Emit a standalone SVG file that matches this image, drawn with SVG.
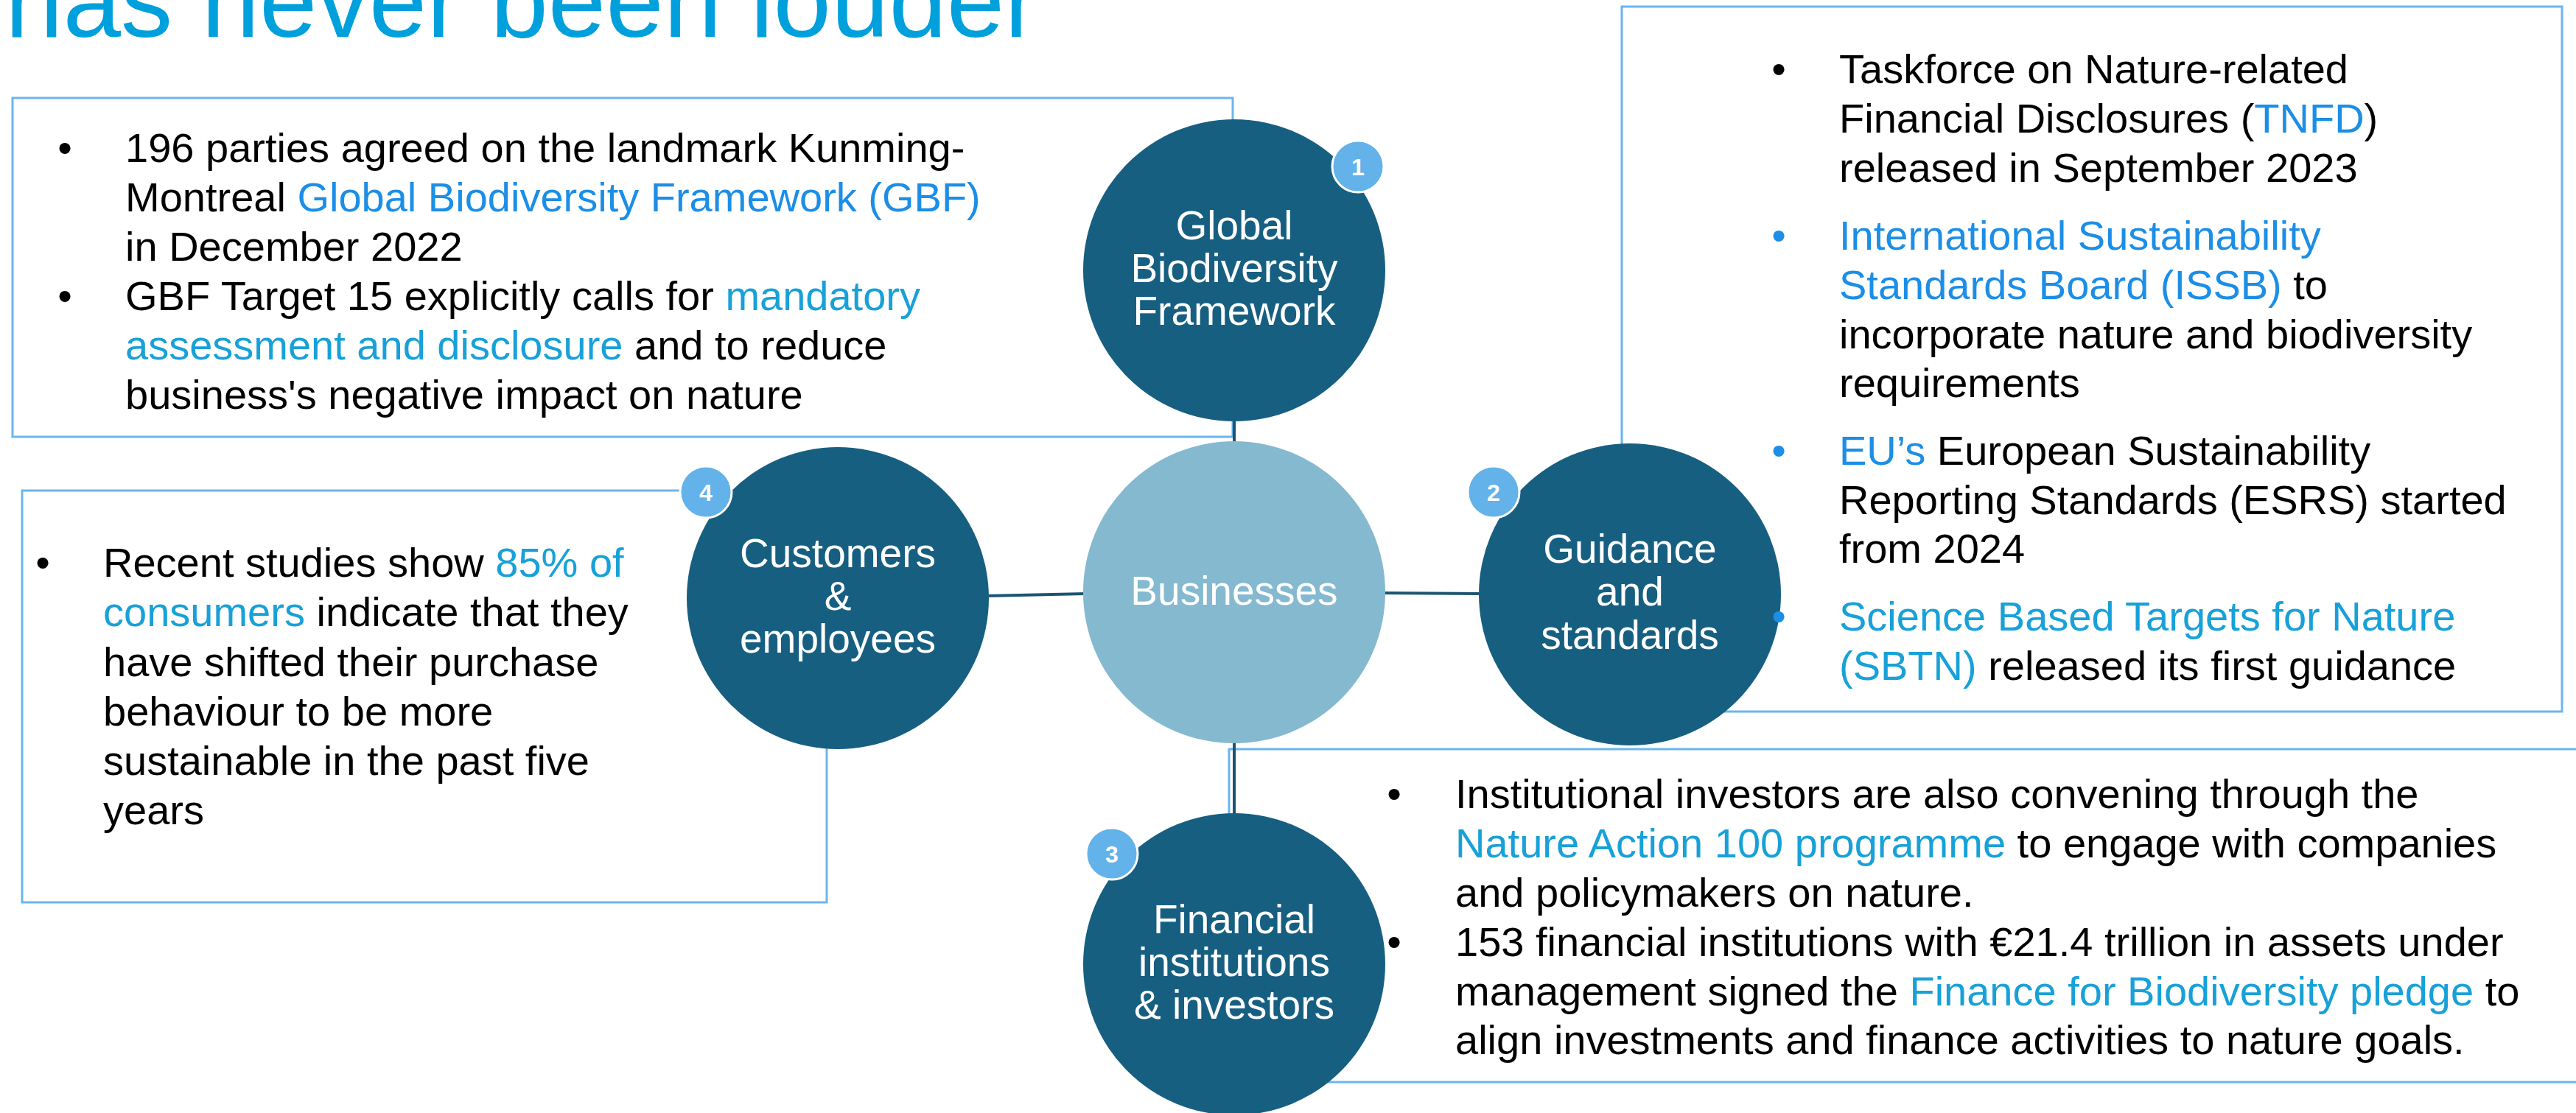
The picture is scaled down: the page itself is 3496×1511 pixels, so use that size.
<svg xmlns="http://www.w3.org/2000/svg" width="3496" height="1511" viewBox="0 0 3496 1511">
<style>
text{font-family:"Liberation Sans",Arial,sans-serif}
.box{fill:none;stroke:#6BB5EE;stroke-width:3}
.con{stroke:#1B5472;stroke-width:4;fill:none}
.dark{fill:#175F81}
.light{fill:#85B9CF}
.badge{fill:#63B2E9;stroke:#fff;stroke-width:3}
.bn{font-size:32px;font-weight:bold;fill:#fff;text-anchor:middle}
.ct{font-size:55px;fill:#fff;text-anchor:middle}
.bt{font-size:56px;fill:#000}
.bu{font-size:56px;fill:#000;text-anchor:middle}
.b1{fill:#1C8EE6}
.b2{fill:#18A1D8}
</style>
<rect width="3496" height="1511" fill="#fff"/>
<text x="7" y="50" font-size="141" fill="#00A0DC">has never been louder</text>
<g id="boxes">
<rect class="box" x="17" y="133" width="1656" height="460"/>
<rect class="box" x="2201" y="9" width="1276" height="957"/>
<rect class="box" x="30" y="666" width="1092" height="559"/>
<rect class="box" x="1668" y="1017" width="1850" height="452"/>
</g>
<g id="connectors">
<line class="con" x1="1675" y1="568" x2="1675" y2="602"/>
<line class="con" x1="1876" y1="805" x2="2011" y2="806"/>
<line class="con" x1="1338" y1="809" x2="1473" y2="806"/>
<line class="con" x1="1675" y1="1005" x2="1675" y2="1107"/>
</g>
<g id="node-gbf">
<circle class="dark" cx="1675" cy="367" r="205"/>
<text class="ct" x="1675" y="325">Global</text>
<text class="ct" x="1675" y="383">Biodiversity</text>
<text class="ct" x="1675" y="441">Framework</text>
<circle class="badge" cx="1843" cy="226" r="35"/>
<text class="bn" x="1843" y="238">1</text>
</g>
<g id="node-businesses">
<circle class="light" cx="1675" cy="804" r="205"/>
<text class="ct" x="1675" y="821">Businesses</text>
</g>
<g id="node-guidance">
<circle class="dark" cx="2212" cy="807" r="205"/>
<text class="ct" x="2212" y="764">Guidance</text>
<text class="ct" x="2212" y="822">and</text>
<text class="ct" x="2212" y="881">standards</text>
<circle class="badge" cx="2027" cy="668" r="35"/>
<text class="bn" x="2027" y="680">2</text>
</g>
<g id="node-financial">
<circle class="dark" cx="1675" cy="1309" r="205"/>
<text class="ct" x="1675" y="1267">Financial</text>
<text class="ct" x="1675" y="1325">institutions</text>
<text class="ct" x="1675" y="1383">&amp; investors</text>
<circle class="badge" cx="1509" cy="1159" r="35"/>
<text class="bn" x="1509" y="1171">3</text>
</g>
<g id="node-customers">
<circle class="dark" cx="1137" cy="812" r="205"/>
<text class="ct" x="1137" y="770">Customers</text>
<text class="ct" x="1137" y="828">&amp;</text>
<text class="ct" x="1137" y="886">employees</text>
<circle class="badge" cx="958" cy="668" r="35"/>
<text class="bn" x="958" y="680">4</text>
</g>
<g id="text-gbf">
<text class="bu" x="88" y="220">•</text>
<text class="bt" x="170" y="220">196 parties agreed on the landmark Kunming-</text>
<text class="bt" x="170" y="287">Montreal <tspan class="b1">Global Biodiversity Framework (GBF)</tspan></text>
<text class="bt" x="170" y="354">in December 2022</text>
<text class="bu" x="88" y="421">•</text>
<text class="bt" x="170" y="421">GBF Target 15 explicitly calls for <tspan class="b2">mandatory</tspan></text>
<text class="bt" x="170" y="488"><tspan class="b2">assessment and disclosure</tspan> and to reduce</text>
<text class="bt" x="170" y="555">business's negative impact on nature</text>
</g>
<g id="text-guidance">
<text class="bu" x="2414" y="113">•</text>
<text class="bt" x="2496" y="113">Taskforce on Nature-related</text>
<text class="bt" x="2496" y="180">Financial Disclosures (<tspan class="b1">TNFD</tspan>)</text>
<text class="bt" x="2496" y="247">released in September 2023</text>
<text class="bu b1" x="2414" y="339">•</text>
<text class="bt" x="2496" y="339"><tspan class="b1">International Sustainability</tspan></text>
<text class="bt" x="2496" y="406"><tspan class="b1">Standards Board (ISSB)</tspan> to</text>
<text class="bt" x="2496" y="473">incorporate nature and biodiversity</text>
<text class="bt" x="2496" y="539">requirements</text>
<text class="bu b1" x="2414" y="631">•</text>
<text class="bt" x="2496" y="631"><tspan class="b1">EU’s</tspan> European Sustainability</text>
<text class="bt" x="2496" y="698">Reporting Standards (ESRS) started</text>
<text class="bt" x="2496" y="764">from 2024</text>
<text class="bu b1" x="2414" y="856">•</text>
<text class="bt" x="2496" y="856"><tspan class="b2">Science Based Targets for Nature</tspan></text>
<text class="bt" x="2496" y="923"><tspan class="b2">(SBTN)</tspan> released its first guidance</text>
</g>
<g id="text-customers">
<text class="bu" x="58" y="783">•</text>
<text class="bt" x="140" y="783">Recent studies show <tspan class="b2">85% of</tspan></text>
<text class="bt" x="140" y="850"><tspan class="b2">consumers</tspan> indicate that they</text>
<text class="bt" x="140" y="918">have shifted their purchase</text>
<text class="bt" x="140" y="985">behaviour to be more</text>
<text class="bt" x="140" y="1052">sustainable in the past five</text>
<text class="bt" x="140" y="1119">years</text>
</g>
<g id="text-financial">
<text class="bu" x="1892" y="1097">•</text>
<text class="bt" x="1975" y="1097">Institutional investors are also convening through the</text>
<text class="bt" x="1975" y="1164"><tspan class="b2">Nature Action 100 programme</tspan> to engage with companies</text>
<text class="bt" x="1975" y="1231">and policymakers on nature.</text>
<text class="bu" x="1892" y="1298">•</text>
<text class="bt" x="1975" y="1298">153 financial institutions with €21.4 trillion in assets under</text>
<text class="bt" x="1975" y="1365">management signed the <tspan class="b2">Finance for Biodiversity pledge</tspan> to</text>
<text class="bt" x="1975" y="1431">align investments and finance activities to nature goals.</text>
</g>
</svg>
